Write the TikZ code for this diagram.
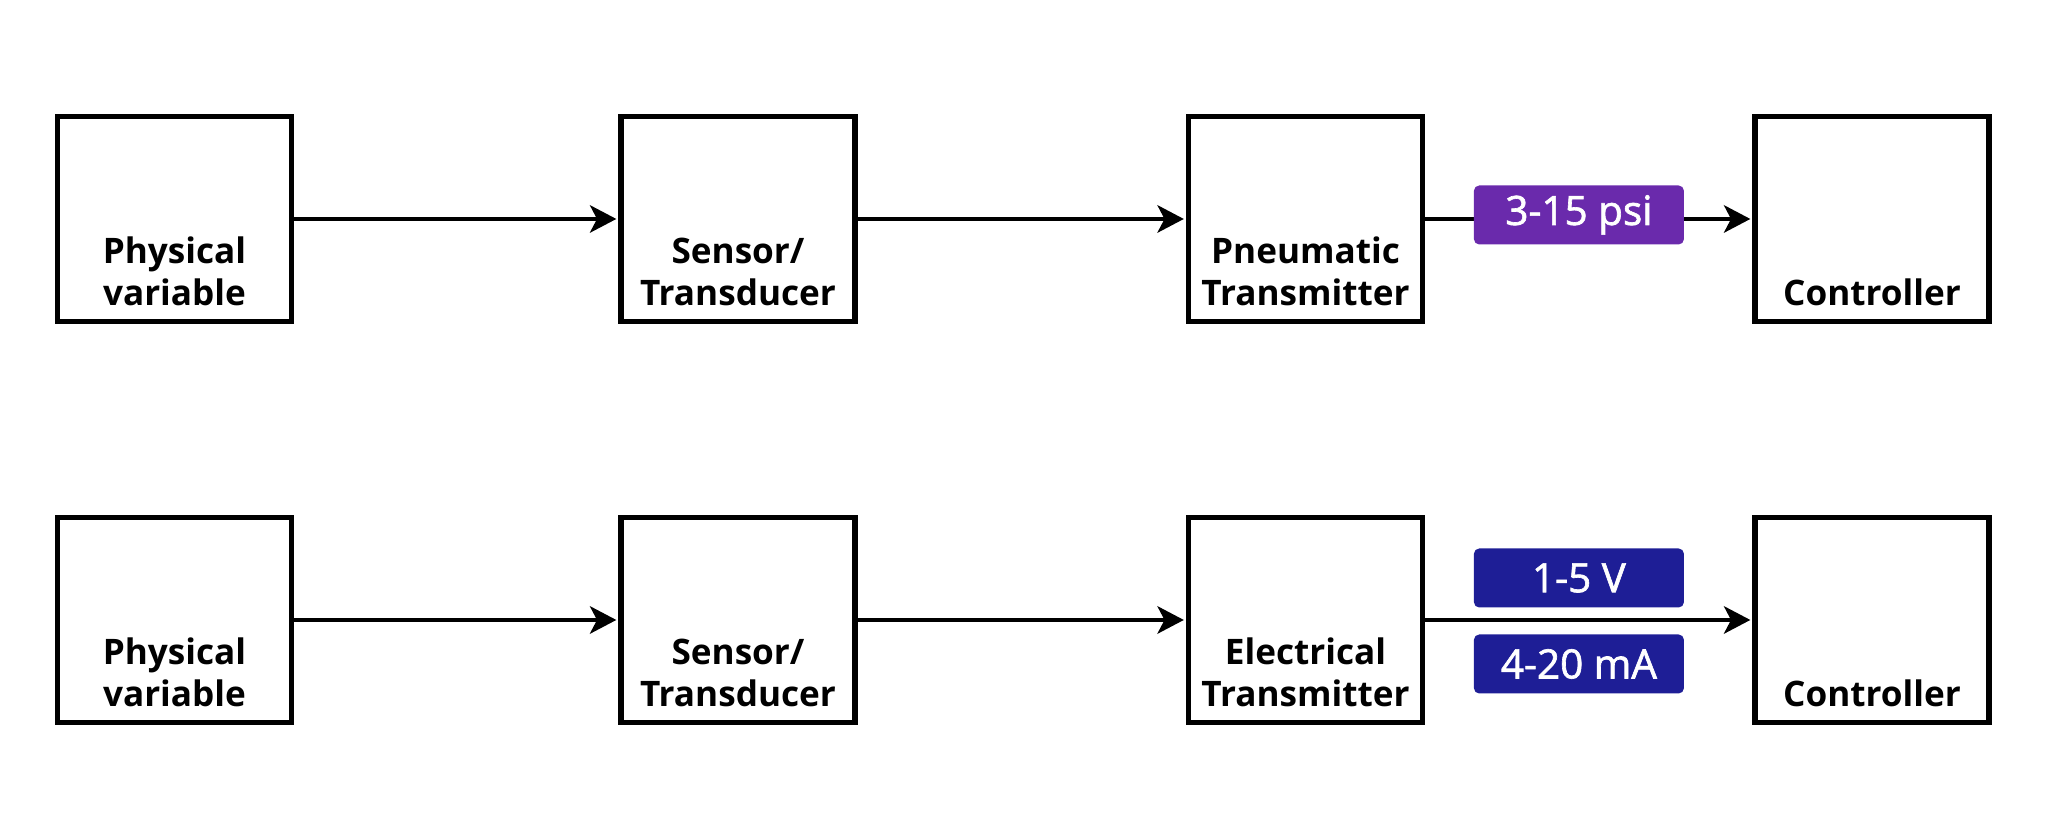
\documentclass[tikz,border=0pt]{standalone}
\usepackage{fontspec}
\setmainfont{Open Sans}
\newfontfamily\tagfont[FakeBold=1.6]{Open Sans}
\usetikzlibrary{arrows.meta}
\definecolor{psipurple}{RGB}{106,42,172}
\definecolor{voltblue}{RGB}{30,30,150}

\begin{document}
\begin{tikzpicture}[
  blockbox/.style={rectangle,draw,line width=1.45pt,minimum width=2.34cm,minimum height=2.05cm,inner sep=0pt},
  blocktext/.style={align=center,anchor=south,inner sep=0pt,font=\fontsize{10}{12}\selectfont\bfseries},
  sigarrow/.style={line width=1.15pt,-{Stealth[length=7.5pt,width=7.8pt,inset=2pt]},shorten >=0.6pt},
  sigtag/.style={rectangle,rounded corners=1.5pt,text=white,minimum width=2.10cm,minimum height=0.59cm,inner sep=0pt,font=\fontsize{11.5}{13}\tagfont}]
  \useasboundingbox (0,0) rectangle (20.48,8.24);
  \node[blockbox] (pv1) at (1.745,6.05) {};
  \node[blockbox] (st1) at (7.38,6.05) {};
  \node[blockbox] (tx1) at (13.055,6.05) {};
  \node[blockbox] (ct1) at (18.72,6.05) {};
  \node[blockbox] (pv2) at (1.745,2.04) {};
  \node[blockbox] (st2) at (7.38,2.04) {};
  \node[blockbox] (tx2) at (13.055,2.04) {};
  \node[blockbox] (ct2) at (18.72,2.04) {};
  \node[blocktext] (pv1t) at ([yshift=1.75mm]pv1.south) {Physical\\variable};
  \node[blocktext] (st1t) at ([yshift=1.75mm]st1.south) {Sensor/\\Transducer};
  \node[blocktext] (tx1t) at ([yshift=1.75mm]tx1.south) {Pneumatic\\Transmitter};
  \node[blocktext] (ct1t) at ([yshift=1.75mm]ct1.south) {Controller};
  \node[blocktext] (pv2t) at ([yshift=1.75mm]pv2.south) {Physical\\variable};
  \node[blocktext] (st2t) at ([yshift=1.75mm]st2.south) {Sensor/\\Transducer};
  \node[blocktext] (tx2t) at ([yshift=1.75mm]tx2.south) {Electrical\\Transmitter};
  \node[blocktext] (ct2t) at ([yshift=1.75mm]ct2.south) {Controller};
  \draw[sigarrow] (pv1) -- (st1);
  \draw[sigarrow] (st1) -- (tx1);
  \draw[sigarrow] (tx1) -- node[sigtag,fill=psipurple,pos=0.47,yshift=0.4mm] (psi) {3-15 psi} (ct1);
  \draw[sigarrow] (pv2) -- (st2);
  \draw[sigarrow] (st2) -- (tx2);
  \draw[sigarrow] (tx2) -- node[sigtag,fill=voltblue,pos=0.47,yshift=4.2mm] (volt) {1-5 V}
    node[sigtag,fill=voltblue,pos=0.47,yshift=-4.4mm] (amp) {4-20 mA} (ct2);
\end{tikzpicture}
\end{document}
